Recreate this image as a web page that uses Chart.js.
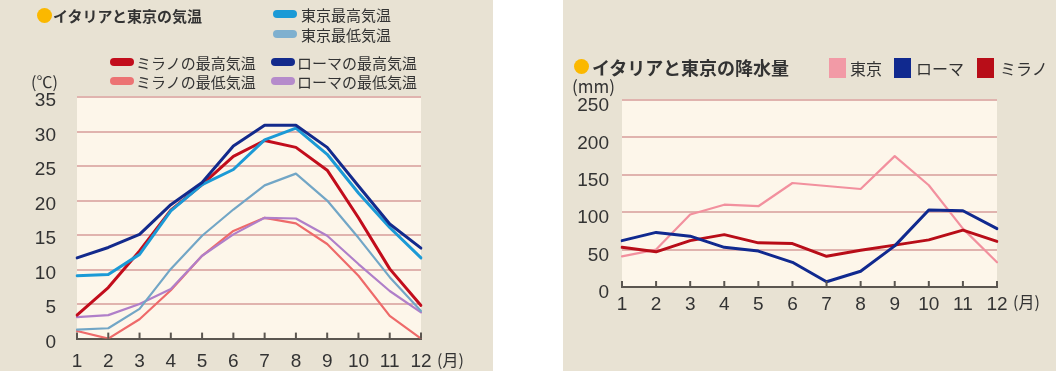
<!DOCTYPE html>
<html lang="ja">
<head>
<meta charset="UTF-8">
<title>イタリアと東京の気温・降水量</title>
<script src="https://cdn.jsdelivr.net/npm/chart.js"></script>
<style>
  body { margin: 0; background: #fff; font-family: "Noto Sans CJK JP", sans-serif; color: #333; }
  #wrap { position: relative; width: 1059px; height: 371px; overflow: hidden; }
  .panel { position: absolute; top: 0; height: 371px; background: #e8e2d3; }
  #p1 { left: 0; width: 493px; }
  #p2 { left: 563px; width: 493px; }
  .panel canvas { position: absolute; left: 0; top: 0; }
  .t { position: absolute; white-space: nowrap; line-height: 1; color: #333; }
  .dot { position: absolute; width: 15px; height: 15px; border-radius: 50%; background: #fbb800; }
  .pill { position: absolute; width: 24px; height: 8px; border-radius: 4px; }
  .sq { position: absolute; width: 17px; height: 20px; }
</style>
</head>
<body>
<div id="wrap">
  <!-- 気温 -->
  <div class="panel" id="p1">
    <canvas id="c1" width="493" height="371"></canvas>
    <div class="dot" style="left:37px;top:8px"></div>
    <div class="t" style="left:53px;top:8px;font-size:15px;font-weight:bold">イタリアと東京の気温</div>

    <div class="pill" style="left:273px;top:10px;background:#1b9ad6"></div>
    <div class="t" style="left:301px;top:7px;font-size:15px">東京最高気温</div>
    <div class="pill" style="left:273px;top:30px;background:#7fb0cf"></div>
    <div class="t" style="left:301px;top:27px;font-size:15px">東京最低気温</div>

    <div class="pill" style="left:110px;top:58px;background:#c20d1c"></div>
    <div class="t" style="left:136px;top:55px;font-size:15px">ミラノの最高気温</div>
    <div class="pill" style="left:110px;top:77px;background:#ec7373"></div>
    <div class="t" style="left:136px;top:74px;font-size:15px">ミラノの最低気温</div>

    <div class="pill" style="left:271px;top:58px;background:#132a8c"></div>
    <div class="t" style="left:297px;top:55px;font-size:15px">ローマの最高気温</div>
    <div class="pill" style="left:271px;top:77px;background:#b58bcb"></div>
    <div class="t" style="left:297px;top:74px;font-size:15px">ローマの最低気温</div>

    <div class="t" style="left:31px;top:73px;font-size:16px">(℃)</div>
    <div class="t" style="left:437px;top:351px;font-size:16px">(月)</div>
  </div>

  <!-- 降水量 -->
  <div class="panel" id="p2">
    <canvas id="c2" width="493" height="371"></canvas>
    <div class="dot" style="left:11px;top:59px"></div>
    <div class="t" style="left:29px;top:58px;font-size:18px;font-weight:bold">イタリアと東京の降水量</div>

    <div class="sq" style="left:266px;top:58px;background:#f29aa6"></div>
    <div class="t" style="left:287px;top:60px;font-size:16px">東京</div>
    <div class="sq" style="left:331px;top:58px;background:#10298f"></div>
    <div class="t" style="left:353px;top:60px;font-size:16px">ローマ</div>
    <div class="sq" style="left:414px;top:58px;background:#b80d18"></div>
    <div class="t" style="left:437px;top:60px;font-size:16px">ミラノ</div>

    <div class="t" style="left:9px;top:77px;font-size:17px">(mm)</div>
    <div class="t" style="left:450px;top:293px;font-size:16px">(月)</div>
  </div>
</div>

<script>
  // 月
  const months = ['1', '2', '3', '4', '5', '6', '7', '8', '9', '10', '11', '12'];

  // 気温 (℃)
  const romaMax  = [11.7, 13.2, 15.1, 19.4, 22.6, 27.9, 30.9, 30.9, 27.7, 22.1, 16.6, 13.1];
  const tokyoMax = [9.1, 9.3, 12.2, 18.5, 22.3, 24.5, 28.8, 30.5, 26.7, 21.1, 16.1, 11.7];
  const milanoMax = [3.4, 7.4, 12.7, 18.6, 22.3, 26.4, 28.7, 27.7, 24.4, 17.5, 10.1, 4.8];
  const tokyoMin = [1.3, 1.5, 4.3, 10.1, 14.9, 18.7, 22.2, 23.9, 20.0, 14.6, 8.9, 4.0];
  const romaMin  = [3.1, 3.4, 5.0, 7.2, 12.0, 15.1, 17.5, 17.4, 14.9, 10.8, 6.9, 3.8];
  const milanoMin = [1.1, 0, 2.8, 7.0, 12.0, 15.6, 17.5, 16.7, 13.7, 9.1, 3.3, 0];
  const tempTicks = [0, 35, 5]; // min, max, step

  // 降水量 (mm)
  const romaRain   = [62, 73, 68, 53, 48, 33, 7, 21, 55, 103, 102, 78];
  const milanoRain = [53, 47, 62, 70, 59, 58, 41, 49, 56, 63, 76, 61];
  const tokyoRain  = [41, 50, 97, 110, 108, 139, 135, 131, 175, 136, 78, 33];
  const rainTicks = [0, 250, 50];

  // 背景と目盛り線
  const plotDeco = {
    id: 'plotDeco',
    beforeDraw(chart) {
      const a = chart.chartArea, ctx = chart.ctx;
      ctx.save();
      ctx.fillStyle = '#fdf6ea';
      ctx.fillRect(a.left, a.top, a.right - a.left, a.bottom - a.top);
      ctx.restore();
    },
    afterDraw(chart) {
      const x = chart.scales.x, a = chart.chartArea, ctx = chart.ctx;
      ctx.save();
      ctx.strokeStyle = '#5b5650';
      ctx.lineWidth = 2;
      x.ticks.forEach((t, i) => {
        const px = x.getPixelForTick(i);
        ctx.beginPath();
        ctx.moveTo(px, a.bottom);
        ctx.lineTo(px, a.bottom - 6);
        ctx.stroke();
      });
      ctx.restore();
    }
  };

  function line(data, color, w) {
    return { data, borderColor: color, borderWidth: w, pointRadius: 0, tension: 0, fill: false };
  }

  function opts(t, box) {
    return {
      responsive: false,
      animation: false,
      layout: { padding: { top: box.top, right: box.right, left: 0, bottom: 0 } },
      plugins: { legend: { display: false }, tooltip: { enabled: false } },
      elements: { line: { borderJoinStyle: 'round', borderCapStyle: 'round' } },
      scales: {
        x: {
          grid: { display: false },
          border: { display: true, color: '#5b5650', width: 2 },
          ticks: { color: '#333', font: { family: 'Liberation Sans', size: 19 }, padding: box.xpad, maxRotation: 0, autoSkip: false },
          afterFit(s) { s.height = box.xh; }
        },
        y: {
          min: t[0], max: t[1],
          grid: {
            drawTicks: false, lineWidth: 2,
            color: c => c.tick.value === t[0] ? 'transparent' : '#e0b3ae'
          },
          border: { display: false },
          ticks: { stepSize: t[2], color: '#333', font: { family: 'Liberation Sans', size: 19 }, padding: box.ypad, labelOffset: box.yoff },
          afterFit(s) { s.width = box.yw; }
        }
      }
    };
  }

  new Chart(document.getElementById('c1'), {
    type: 'line',
    data: {
      labels: months,
      datasets: [
        line(romaMax, '#132a8c', 3),
        line(tokyoMax, '#1b9ad6', 3),
        line(milanoMax, '#c20d1c', 3),
        line(tokyoMin, '#72a6c6', 2.2),
        line(romaMin, '#b07fc9', 2.2),
        line(milanoMin, '#ee6a6a', 2.2)
      ]
    },
    options: opts(tempTicks, { top: 97, right: 72, xh: 29, yw: 77, xpad: 4, ypad: 21, yoff: 4 }),
    plugins: [plotDeco]
  });

  new Chart(document.getElementById('c2'), {
    type: 'line',
    data: {
      labels: months,
      datasets: [
        line(romaRain, '#10298f', 3),
        line(milanoRain, '#b80d18', 3),
        line(tokyoRain, '#f2909e', 2.2)
      ]
    },
    options: opts(rainTicks, { top: 100, right: 59, xh: 84, yw: 59, xpad: -2, ypad: 13, yoff: 6 }),
    plugins: [plotDeco]
  });
</script>
</body>
</html>
